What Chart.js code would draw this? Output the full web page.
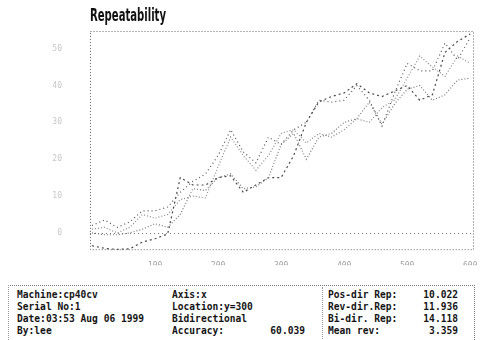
<!DOCTYPE html>
<html>
<head>
<meta charset="utf-8">
<script src="https://cdn.jsdelivr.net/npm/chart.js@4.4.1/dist/chart.umd.min.js"></script>
<style>
  html, body { margin: 0; padding: 0; background: #fff; }
  #wrap { position: relative; width: 481px; height: 340px; overflow: hidden; background: #fff; }
  #chartBox { position: absolute; left: 0; top: 0; width: 481px; height: 275px; }
  #title { position: absolute; left: 90px; top: 4px; font-family: "Liberation Sans Narrow", "DejaVu Sans Condensed", sans-serif;
           font-weight: bold; font-size: 18px; color: #111; transform-origin: left top; white-space: nowrap; }
  #panel { position: absolute; left: 8px; top: 285px; width: 465px; height: 56px;
           border-top: 1px dotted #777; border-left: 1px dotted #999; border-right: 1px dotted #777; }
  #divider { position: absolute; left: 322px; top: 287px; width: 0; height: 52px; border-left: 1px dotted #999; }
  .t { position: absolute; font-family: "DejaVu Sans Mono", "Liberation Mono", monospace; font-weight: bold;
       font-size: 9.6px; line-height: 12px; color: #151515; white-space: nowrap; }
  .r { text-align: right; }
</style>
</head>
<body>
<div id="wrap">
  <div id="chartBox"><canvas id="c" width="481" height="275"></canvas></div>
  <div id="title">Repeatability</div>
  <div id="panel"></div>
  <div id="divider"></div>
  <div id="info"></div>
</div>
<script>
// ---- data ----
const xPositions = [0,20,40,60,80,100,120,140,160,180,200,220,240,260,280,300,320,340,360,380,400,420,440,460,480,500,520,540,560,580,600];
const run1 = [2,3.5,1.5,3,6,6,7,11,14,16,21,28,22,19,26,24,28,30,36,35.5,36,40,36,29,38,46,44,44,51.5,47,53];
const run2 = [0,-0.5,-0.5,0,1,2.5,1.5,5,12,11.5,15,16,12,12.5,15,24,27,20,26,27,30,31,35.5,29.5,35,39,40,36,37.5,41.5,42];
const run3 = [-3.5,-4.2,-4.5,-4.3,-2.5,-1.6,-0.3,15,13,13,15,15.5,11,13,15,15,21,30,35.6,37,38,40.5,38,37,38.5,40,36,37.5,49,52,54];
const run4 = [1,1.5,0,1.5,5,4,5,9,10,9.5,18,26,21,17,21,27,28,24.4,27,26,28,31,30,34,36,42,48,45,42.5,48,46];
const yTicks = [0,10,20,30,40,50];
const xTicks = [100,200,300,400,500,600];
const referenceLevel = 0;

const infoLeft = ["Machine:cp40cv","Serial No:1","Date:03:53 Aug 06 1999","By:lee"];
const infoMid = ["Axis:x","Location:y=300","Bidirectional","Accuracy:"];
const accuracyValue = "60.039";
const infoRightLabels = ["Pos-dir Rep:","Rev-dir.Rep:","Bi-dir. Rep:","Mean rev:"];
const infoRightValues = ["10.022","11.936","14.118","3.359"];

// ---- title scaling ----
const titleEl = document.getElementById('title');
const tw = titleEl.getBoundingClientRect().width;
titleEl.style.transform = 'scaleX(' + (76 / tw) + ')';

// ---- info panel ----
const info = document.getElementById('info');
const rowTop = [289, 301, 313, 325];
function addText(txt, left, top, right) {
  const d = document.createElement('div');
  d.className = 't' + (right ? ' r' : '');
  d.textContent = txt;
  d.style.top = top + 'px';
  if (right) { d.style.right = (481 - left) + 'px'; } else { d.style.left = left + 'px'; }
  info.appendChild(d);
}
infoLeft.forEach((s, i) => addText(s, 17, rowTop[i]));
infoMid.forEach((s, i) => addText(s, 172, rowTop[i]));
addText(accuracyValue, 305, rowTop[3], true);
infoRightLabels.forEach((s, i) => addText(s, 328, rowTop[i]));
infoRightValues.forEach((s, i) => addText(s, 458, rowTop[i], true));

// ---- chart ----
const runs = [run1, run2, run3, run4];
const colors = ['#555555', '#777777', '#4a4a4a', '#8a8a8a'];
const dashes = [[1,3],[1,2],[2,3],[1,2]];
const datasets = runs.map((r, i) => ({
  data: xPositions.map((x, j) => ({ x: x, y: r[j] })),
  borderColor: colors[i],
  borderWidth: 1.2,
  borderDash: dashes[i],
  pointRadius: 0,
  fill: false,
  tension: 0
}));

const boxPlugin = {
  id: 'box',
  beforeDatasetsDraw(chart) {
    const a = chart.chartArea, ctx = chart.ctx;
    const yz = Math.round(chart.scales.y.getPixelForValue(referenceLevel)) + 0.5;
    ctx.save();
    ctx.strokeStyle = '#777';
    ctx.lineWidth = 1;
    ctx.setLineDash([1, 3]);
    ctx.beginPath();
    ctx.moveTo(a.left, yz);
    ctx.lineTo(a.right, yz);
    ctx.stroke();
    ctx.restore();
  },
  afterDraw(chart) {
    const a = chart.chartArea, ctx = chart.ctx;
    ctx.save();
    ctx.strokeStyle = '#666';
    ctx.lineWidth = 1;
    ctx.setLineDash([1, 2]);
    ctx.strokeRect(a.left + 0.5, a.top + 0.5, a.right - a.left - 1, a.bottom - a.top - 1);
    ctx.restore();
  }
};

new Chart(document.getElementById('c'), {
  type: 'line',
  data: { datasets },
  plugins: [boxPlugin],
  options: {
    responsive: false,
    animation: false,
    layout: { padding: { top: 31, right: 7, left: 0, bottom: 0 } },
    plugins: { legend: { display: false }, tooltip: { enabled: false }, title: { display: false } },
    scales: {
      x: {
        type: 'linear',
        min: -3.2,
        max: 606,
        afterBuildTicks(s) { s.ticks = xTicks.map(v => ({ value: v })); },
        afterFit(s) { s.height = 15; },
        grid: { display: false },
        border: { display: false },
        ticks: { color: '#a0a0a0', font: { family: 'DejaVu Sans Mono', size: 8 }, padding: 3, maxRotation: 0 }
      },
      y: {
        min: -4.7,
        max: 54.8,
        afterBuildTicks(s) { s.ticks = yTicks.map(v => ({ value: v })); },
        afterFit(s) { s.width = 90; },
        grid: { display: false },
        border: { display: false },
        ticks: { color: '#c8c8c8', font: { family: 'DejaVu Sans Mono', size: 8 }, padding: 20 }
      }
    }
  }
});
</script>
</body>
</html>
